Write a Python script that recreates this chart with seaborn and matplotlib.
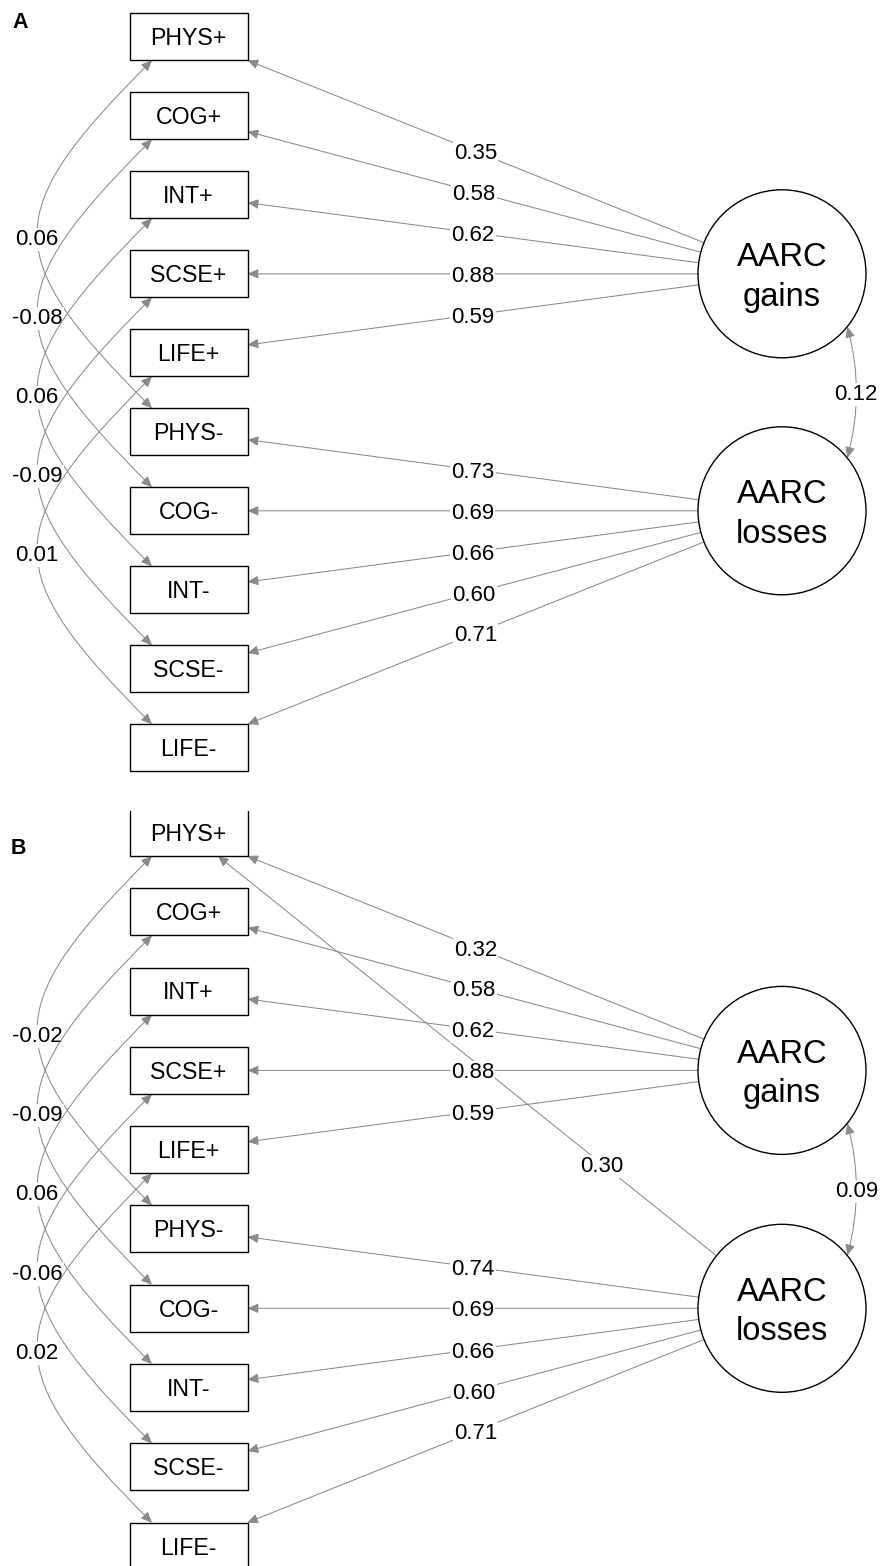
import numpy as np
import matplotlib
matplotlib.use("Agg")
import matplotlib.pyplot as plt
import seaborn as sns
from matplotlib.patches import Rectangle, Circle, FancyArrowPatch
from matplotlib.path import Path

# ---- model estimates ----
indicators = ["PHYS+", "COG+", "INT+", "SCSE+", "LIFE+",
              "PHYS-", "COG-", "INT-", "SCSE-", "LIFE-"]
factors = ["AARC\ngains", "AARC\nlosses"]
indicator_factor = [0, 0, 0, 0, 0, 1, 1, 1, 1, 1]

loadings_a = [0.35, 0.58, 0.62, 0.88, 0.59, 0.73, 0.69, 0.66, 0.60, 0.71]
loadings_b = [0.32, 0.58, 0.62, 0.88, 0.59, 0.74, 0.69, 0.66, 0.60, 0.71]

# residual covariances between "+" item i and "-" item i
resid_cov_a = [0.06, -0.08, 0.06, -0.09, 0.01]
resid_cov_b = [-0.02, -0.09, 0.06, -0.06, 0.02]

factor_cov_a = 0.12
factor_cov_b = 0.09

# extra cross loading in model B: (factor index, indicator index, value)
cross_b = [(1, 0, 0.30)]

# ---- layout (pixels, 1 data unit = 1 px) ----
W, H, DPI = 882, 1566, 100
BOX_X, BOX_W, BOX_H = 188.5, 118, 47
LAT_X, LAT_R = 782, 84
LAT_ROWS = [3, 6]
ARC_X = BOX_X - BOX_W / 2 + 22.5
ARC_K = 153
EDGE = "#8a8a8a"
LW = 0.75
HEAD = "head_length=0.65,head_width=0.29"

sns.set_theme(style="white")
plt.rcParams["font.family"] = ["Liberation Sans", "DejaVu Sans"]
plt.rcParams["text.color"] = "black"

LABEL_FS = 16.0
NODE_FS = 16.7
LAT_FS = 23.5


def half_cap(fs):
    return 0.716 * fs * DPI / 72 / 2


def edge_label(ax, x, y, val, z):
    ax.text(x, y + half_cap(LABEL_FS), f"{val:.2f}", ha="center", va="baseline",
            fontsize=LABEL_FS, color="black", zorder=z,
            bbox=dict(boxstyle="square,pad=0.05", fc="white", ec="none"))


def box_exit(cx, cy, tx, ty):
    dx, dy = tx - cx, ty - cy
    ts = []
    if dx != 0:
        ts.append(BOX_W / 2 / abs(dx))
    if dy != 0:
        ts.append(BOX_H / 2 / abs(dy))
    t = min(ts)
    return cx + dx * t, cy + dy * t


def circ_exit(cx, cy, tx, ty):
    dx, dy = tx - cx, ty - cy
    d = np.hypot(dx, dy)
    return cx + dx / d * LAT_R, cy + dy / d * LAT_R


def draw_panel(ax, top, step, loadings, resid_cov, factor_cov, cross=()):
    box_y = [top + i * step + BOX_H / 2 for i in range(len(indicators))]
    lat_y = [top + r * step + BOX_H / 2 for r in LAT_ROWS]

    # loadings
    edges = [(indicator_factor[i], i, v, 0.5) for i, v in enumerate(loadings)]
    edges += [(f, i, v, 0.23) for f, i, v in cross]
    for f, i, v, frac in edges:
        p0 = circ_exit(LAT_X, lat_y[f], BOX_X, box_y[i])
        p1 = box_exit(BOX_X, box_y[i], LAT_X, lat_y[f])
        ax.add_patch(FancyArrowPatch(p0, p1, arrowstyle="-|>," + HEAD,
                                     mutation_scale=10, shrinkA=0, shrinkB=0,
                                     color=EDGE, lw=LW, zorder=2))
        lx = p0[0] + frac * (p1[0] - p0[0])
        ly = p0[1] + frac * (p1[1] - p0[1])
        edge_label(ax, lx, ly, v, 4)

    # residual covariances (curved, drawn in order)
    n = len(resid_cov)
    for j, v in enumerate(resid_cov):
        y0 = box_y[j] + BOX_H / 2
        y3 = box_y[j + n] - BOX_H / 2
        verts = [(ARC_X, y0), (ARC_X - ARC_K, y0 + ARC_K),
                 (ARC_X - ARC_K, y3 - ARC_K), (ARC_X, y3)]
        path = Path(verts, [Path.MOVETO, Path.CURVE4, Path.CURVE4, Path.CURVE4])
        ax.add_patch(FancyArrowPatch(path=path, arrowstyle="<|-|>," + HEAD,
                                     mutation_scale=10, color=EDGE, lw=LW,
                                     zorder=5 + 2 * j))
        edge_label(ax, ARC_X - 0.75 * ARC_K, (y0 + y3) / 2 + 3, v, 6 + 2 * j)

    # factor covariance
    th = np.deg2rad(39)
    px = LAT_X + LAT_R * np.cos(th)
    p0 = (px, lat_y[0] + LAT_R * np.sin(th))
    p2 = (px, lat_y[1] - LAT_R * np.sin(th))
    mid = (p0[1] + p2[1]) / 2
    path = Path([p0, (px + 18, mid), p2], [Path.MOVETO, Path.CURVE3, Path.CURVE3])
    ax.add_patch(FancyArrowPatch(path=path, arrowstyle="<|-|>," + HEAD,
                                 mutation_scale=10, color=EDGE, lw=LW, zorder=2))
    edge_label(ax, px + 9, mid, factor_cov, 4)

    # observed variables
    for name, y in zip(indicators, box_y):
        ax.add_patch(Rectangle((BOX_X - BOX_W / 2, y - BOX_H / 2), BOX_W, BOX_H,
                               fc="white", ec="black", lw=1.0, zorder=20))
        ax.text(BOX_X, y + half_cap(NODE_FS), name, ha="center", va="baseline",
                fontsize=NODE_FS, color="black", zorder=21)

    # latent variables
    for name, y in zip(factors, lat_y):
        ax.add_patch(Circle((LAT_X, y), LAT_R, fc="white", ec="black",
                            lw=1.0, zorder=20))
        l1, l2 = name.split("\n")
        ax.text(LAT_X, y - 7.5, l1, ha="center", va="baseline",
                fontsize=LAT_FS, color="black", zorder=21)
        ax.text(LAT_X, y + 32, l2, ha="center", va="baseline",
                fontsize=LAT_FS, color="black", zorder=21)


fig = plt.figure(figsize=(W / DPI, H / DPI), dpi=DPI)
fig.patch.set_facecolor("white")

# panel A occupies the upper part, panel B is clipped at its top edge
a_bottom = 795
b_top = 811
axA = fig.add_axes([0, 1 - a_bottom / H, 1, a_bottom / H])
axA.set_xlim(0, W)
axA.set_ylim(a_bottom, 0)
axB = fig.add_axes([0, 0, 1, (H - b_top) / H])
axB.set_xlim(0, W)
axB.set_ylim(H, b_top)
for ax in (axA, axB):
    ax.axis("off")

draw_panel(axA, 13.3, 79.0, loadings_a, resid_cov_a, factor_cov_a)
draw_panel(axB, 809.0, 79.3, loadings_b, resid_cov_b, factor_cov_b, cross_b)

fig.text(12 / W, 1 - 28 / H, "A", fontsize=15.5, fontweight="bold",
         color="black", va="baseline")
fig.text(11 / W, 1 - 854 / H, "B", fontsize=15.5, fontweight="bold",
         color="black", va="baseline")

fig.savefig("out.png", dpi=DPI, facecolor="white")
